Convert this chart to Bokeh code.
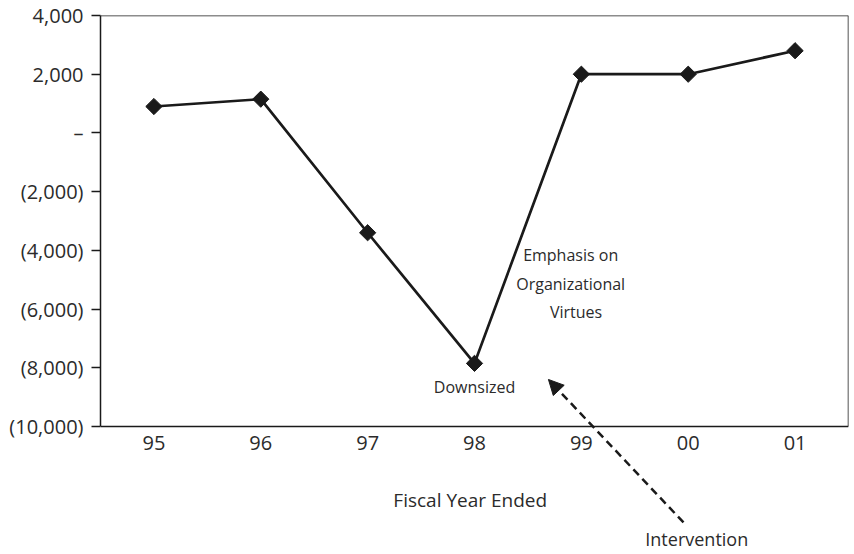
from bokeh.plotting import figure
from bokeh.models import FixedTicker, Label, Arrow, NormalHead, Range1d, LinearAxis
from bokeh.embed import file_html
from bokeh.resources import INLINE

years = ["95", "96", "97", "98", "99", "00", "01"]
income = [900, 1150, -3400, -7850, 2000, 2000, 2800]
y_ticks = [-10000, -8000, -6000, -4000, -2000, 0, 2000, 4000]
y_tick_labels = ["(10,000)", "(8,000)", "(6,000)", "(4,000)", "(2,000)", "\u2013", "2,000", "4,000"]

FONT = "Open Sans"
TXT = "#2b2b2b"
INK = "#1a1a1a"

xs = list(range(len(years)))
Y_MIN, Y_MAX = -10000, 4000
BOX_PX = 411.0           # pixel height of the drawn box
FRAME_H = 539            # frame extends below the box so annotations are not clipped
y_start = Y_MAX - FRAME_H * (Y_MAX - Y_MIN) / BOX_PX

p = figure(frame_width=748, frame_height=FRAME_H,
           min_border_left=100, min_border_right=6, min_border_top=15, min_border_bottom=0,
           x_range=Range1d(-0.5, 6.5), y_range=Range1d(y_start, Y_MAX),
           x_axis_location=None, y_axis_location=None,
           output_backend="svg", toolbar_location=None)

p.line(xs, income, line_color=INK, line_width=2.7)
p.scatter(xs, income, marker="square", size=11.5, angle=0.785398,
          fill_color=INK, line_color=INK)

p.xgrid.visible = False
p.ygrid.visible = False
p.outline_line_color = None
p.background_fill_color = "white"
p.border_fill_color = "white"

def style(ax):
    ax.axis_line_color = INK
    ax.axis_line_width = 1.5
    ax.major_tick_line_color = INK
    ax.major_tick_line_width = 1.5
    ax.major_tick_in = 0
    ax.minor_tick_out = 0
    ax.minor_tick_in = 0
    ax.major_label_text_font = FONT
    ax.major_label_text_font_size = "20px"
    ax.major_label_text_color = TXT

# bottom axis, fixed at the box bottom
xax = LinearAxis(ticker=FixedTicker(ticks=xs), fixed_location=Y_MIN)
style(xax)
xax.major_label_overrides = {i: y for i, y in enumerate(years)}
xax.major_tick_out = 0
xax.major_label_standoff = 9
p.add_layout(xax, "below")

# left axis
yax = LinearAxis(ticker=FixedTicker(ticks=y_ticks), bounds=(Y_MIN, Y_MAX))
style(yax)
yax.major_label_overrides = dict(zip(y_ticks, y_tick_labels))
yax.major_tick_out = 9
yax.major_label_standoff = 8
p.add_layout(yax, "left")

# top and right edges of the box
top = LinearAxis(ticker=FixedTicker(ticks=[]), fixed_location=Y_MAX, major_label_text_font_size="0px")
style(top)
top.major_tick_out = 0
p.add_layout(top, "above")
right = LinearAxis(ticker=FixedTicker(ticks=[]), fixed_location=6.5, bounds=(Y_MIN, Y_MAX),
                   major_label_text_font_size="0px")
style(right)
right.major_tick_out = 0
p.add_layout(right, "right")

def lab(x, y, t, size="16px"):
    p.add_layout(Label(x=x, y=y, text=t, text_align="center", text_baseline="middle",
                       text_font=FONT, text_font_size=size, text_color=TXT))

lab(3.9, -4175, "Emphasis on")
lab(3.9, -5129, "Organizational")
lab(3.95, -6116, "Virtues")
lab(3.0, -8671, "Downsized")
lab(2.96, -12487, "Fiscal Year Ended", "19px")
lab(5.08, -13848, "Intervention", "18px")

p.add_layout(Arrow(end=NormalHead(size=15, fill_color=INK, line_color=INK, line_dash="solid"),
                   x_start=4.956, y_start=-13268, x_end=3.692, y_end=-8398,
                   line_color=INK, line_width=2.5, line_dash="8 5"))

open("out.html", "w").write(file_html(p, INLINE))
